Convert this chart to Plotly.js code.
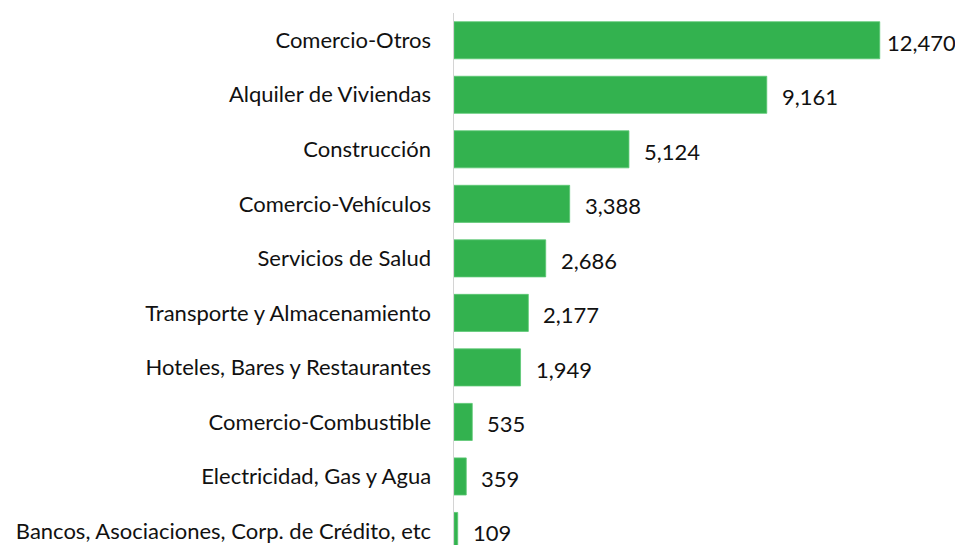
<!DOCTYPE html>
<html>
<head>
<meta charset="utf-8">
<script src="https://cdn.plot.ly/plotly-3.0.1.min.js"></script>
<style>html,body{margin:0;padding:0;background:#fff;}#chart{width:955px;height:545px;}</style>
</head>
<body>
<div id="chart"></div>
<script>
const categories = [
  "Comercio-Otros",
  "Alquiler de Viviendas",
  "Construcción",
  "Comercio-Vehículos",
  "Servicios de Salud",
  "Transporte y Almacenamiento",
  "Hoteles, Bares y Restaurantes",
  "Comercio-Combustible",
  "Electricidad, Gas y Agua",
  "Bancos, Asociaciones, Corp. de Crédito, etc"
];
const values = [12470, 9161, 5124, 3388, 2686, 2177, 1949, 535, 359, 109];
const valueLabels = values.map(v => v.toLocaleString('en-US'));

const FONT = "Lato, 'Liberation Sans', Arial, sans-serif";
const maxVal = Math.max(...values);

const trace = {
  type: 'bar',
  orientation: 'h',
  x: values,
  y: categories,
  marker: {color: '#33B24F', line: {color: '#5cc874', width: 0.8}},
  hoverinfo: 'none'
};

const annotations = values.map((v, i) => ({
  x: v, y: categories[i], xref: 'x', yref: 'y',
  text: valueLabels[i], showarrow: false,
  xanchor: 'left', yanchor: 'middle',
  xshift: v === maxVal ? 5 : 13, yshift: -2,
  font: {family: FONT, size: 22, color: '#111'}
}));

const layout = {
  width: 955, height: 545,
  margin: {l: 454, r: 23, t: 13.25, b: 0},
  paper_bgcolor: '#fff', plot_bgcolor: '#fff',
  showlegend: false,
  bargap: 0.32,
  xaxis: {range: [0, 14000], visible: false, showgrid: false, zeroline: false},
  yaxis: {
    type: 'category',
    range: [9.257, -0.5],
    showgrid: false, zeroline: false,
    showline: true, linecolor: '#d4d4d4', linewidth: 1.5,
    ticks: '', ticklabelstandoff: 17,
    tickfont: {family: FONT, size: 22, color: '#111'}
  },
  annotations: annotations
};

Plotly.newPlot('chart', [trace], layout, {displayModeBar: false, staticPlot: true});
</script>
</body>
</html>
